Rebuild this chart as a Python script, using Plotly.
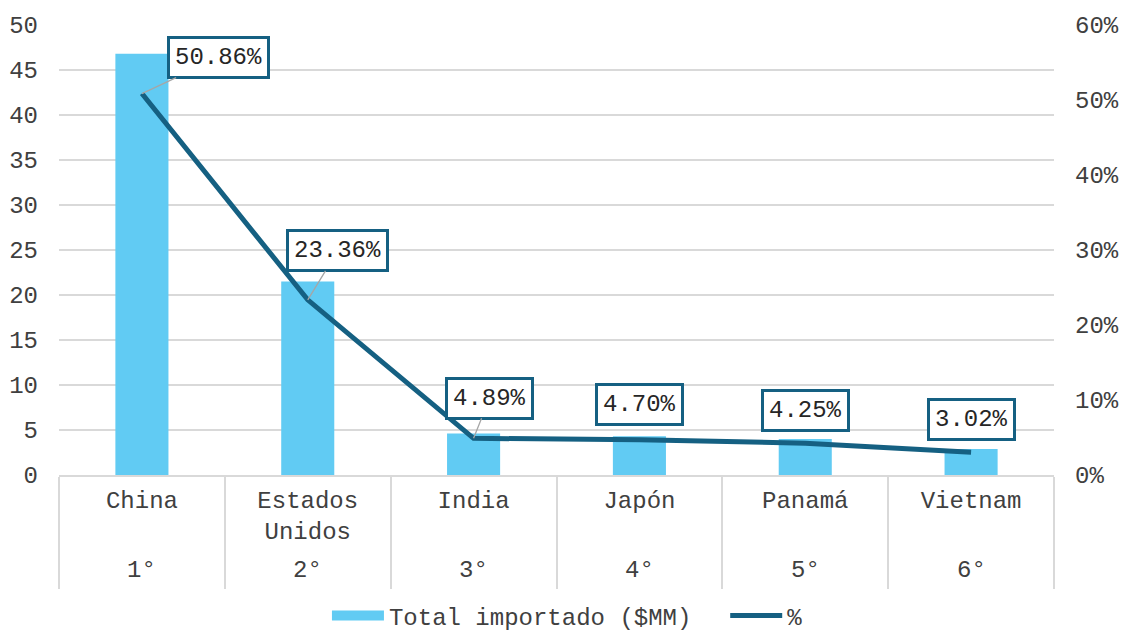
import plotly.graph_objects as go

# Importaciones por país de origen
paises = ["China", "Estados<br>Unidos", "India", "Japón", "Panamá", "Vietnam"]
posiciones = ["1°", "2°", "3°", "4°", "5°", "6°"]
total_importado = [46.8, 21.5, 4.6, 4.3, 4.0, 2.9]          # $MM
participacion = [0.5086, 0.2336, 0.0489, 0.0470, 0.0425, 0.0302]

# desplazamiento (px) de cada etiqueta respecto a su punto
etiqueta_dx = [77, 30, 16, 0, 0, 0]
etiqueta_dy = [-36, -49, -40, -35, -33, -33]
con_guia = [True, True, True, False, False, False]

FONT = "Liberation Mono, Courier New, monospace"
TAM = 24
AZUL_CLARO = "#61CBF3"
AZUL_OSCURO = "#156082"
GRIS_TEXTO = "#404040"
GRIS_LINEA = "#D9D9D9"

fig = go.Figure()
fig.add_trace(go.Bar(
    x=paises, y=total_importado, name="Total importado ($MM)",
    marker=dict(color=AZUL_CLARO, line=dict(width=0)), width=0.32,
    yaxis="y", showlegend=False,
))
# muestra de leyenda rectangular para las barras
fig.add_trace(go.Scatter(
    x=[None], y=[None], name="Total importado ($MM)\u00a0\u00a0", mode="lines",
    line=dict(color=AZUL_CLARO, width=16), showlegend=True,
))
fig.add_trace(go.Scatter(
    x=paises, y=participacion, name="%", mode="lines",
    line=dict(color=AZUL_OSCURO, width=5), yaxis="y2",
))

# etiquetas de porcentaje
for i, v in enumerate(participacion):
    fig.add_annotation(
        x=i, y=v, yref="y2", xref="x",
        text=f"{v*100:.2f}%",
        showarrow=con_guia[i], arrowhead=0, arrowwidth=1.3, arrowcolor="#A6A6A6",
        ax=etiqueta_dx[i] if con_guia[i] else 0,
        ay=etiqueta_dy[i] if con_guia[i] else 0,
        xshift=0 if con_guia[i] else etiqueta_dx[i],
        yshift=0 if con_guia[i] else -etiqueta_dy[i],
        font=dict(family=FONT, size=TAM, color="#262626"),
        bgcolor="white", bordercolor=AZUL_OSCURO, borderwidth=3, borderpad=5,
    )

# segundo nivel del eje de categorías: posición en el ranking
for i, p in enumerate(posiciones):
    fig.add_annotation(
        x=i, xref="x", y=0, yref="paper", yshift=-95, yanchor="middle",
        text=p, showarrow=False,
        font=dict(family=FONT, size=TAM, color=GRIS_TEXTO),
    )

fig.update_layout(
    width=1121, height=631,
    margin=dict(l=59, r=67, t=25, b=156, autoexpand=False),
    paper_bgcolor="white", plot_bgcolor="white",
    font=dict(family=FONT, size=TAM, color=GRIS_TEXTO),
    bargap=0.68,
    showlegend=True,
    legend=dict(orientation="h", x=0.511, xanchor="center", yref="container",
                y=0.024, yanchor="middle", itemwidth=52,
                font=dict(family=FONT, size=TAM, color=GRIS_TEXTO)),
    xaxis=dict(
        type="category", showgrid=False, showline=True, linecolor=GRIS_LINEA,
        linewidth=2, tickson="boundaries", ticks="outside", ticklen=112,
        tickwidth=2, tickcolor=GRIS_LINEA, ticklabelstandoff=2,
        tickfont=dict(family=FONT, size=TAM, color=GRIS_TEXTO),
    ),
    yaxis=dict(
        range=[0, 50], dtick=5, showgrid=True, gridcolor=GRIS_LINEA, gridwidth=1.5,
        zeroline=False, showline=False, ticks="", ticklabelstandoff=20,
        tickfont=dict(family=FONT, size=TAM, color=GRIS_TEXTO),
    ),
    yaxis2=dict(
        range=[0, 0.6], dtick=0.1, tickformat=".0%", overlaying="y", side="right",
        showgrid=False, zeroline=False, showline=False, ticks="", ticklabelstandoff=20,
        tickfont=dict(family=FONT, size=TAM, color=GRIS_TEXTO),
    ),
)

fig.write_html("out.html")
